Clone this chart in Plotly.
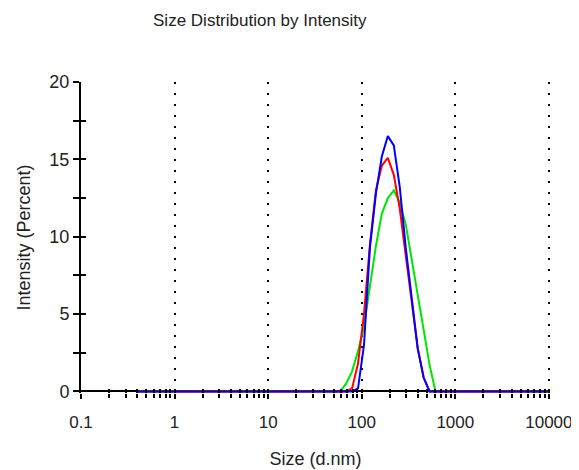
import plotly.graph_objects as go

# size bins (d.nm) and intensity (%) for the three measurements
sizes = [0.4, 58.77, 68.06, 78.82, 91.28, 105.7, 122.4, 141.8, 164.2, 190.1,
         220.2, 255.0, 295.3, 342.0, 396.1, 458.7, 531.2, 615.1, 712.4, 10000]
green = [0, 0, 0.5, 1.3, 2.6, 4.2, 6.8, 9.4, 11.5, 12.5,
         13.0, 12.2, 10.8, 8.6, 6.2, 4.0, 1.7, 0, 0, 0]
red = [0, 0, 0, 0.2, 1.8, 5.0, 9.5, 13.0, 14.6, 15.1,
       14.0, 11.8, 8.7, 5.6, 2.8, 0.9, 0, 0, 0, 0]
blue = [0, 0, 0, 0, 0.2, 3.0, 9.3, 12.8, 15.2, 16.5,
        15.9, 13.2, 9.3, 5.9, 2.8, 0.9, 0, 0, 0, 0]

x_ticks = [0.1, 1, 10, 100, 1000, 10000]
x_labels = ['0.1', '1', '10', '100', '1000', '10000']
y_ticks = [0, 5, 10, 15, 20]

fig = go.Figure()
for y, c in [(green, '#00e600'), (red, '#ff0000'), (blue, '#0000ff')]:
	fig.add_trace(go.Scatter(x=sizes, y=y, mode='lines',
	                         line=dict(color=c, width=2),
	                         showlegend=False))

xrange = [-1, 4.012]
yrange = [-0.1, 20]

# page body has an 8px margin, so the figure is 8px smaller than the window
fig.update_layout(
	width=571, height=462,
	paper_bgcolor='white', plot_bgcolor='white',
	margin=dict(l=73, r=29, t=74, b=77),
	font=dict(family='Liberation Sans', size=18, color='#222222'),
	title=dict(text='Size Distribution by Intensity', x=0.441, xref='container',
	           xanchor='center', y=1 - 12 / 462, yref='container', yanchor='middle',
	           font=dict(size=17, color='#222222')),
	xaxis=dict(type='log', range=xrange, tickvals=x_ticks, ticktext=x_labels,
	           ticks='outside', ticklen=5, tickwidth=2, tickcolor='black',
	           ticklabelstandoff=9, automargin=False,
	           showline=False, tickfont=dict(size=17, color='#222222'),
	           showgrid=True, gridcolor='black', gridwidth=1.5, griddash='2px,9px',
	           minor=dict(dtick='D1', ticks='outside', ticklen=4, tickwidth=2,
	                      tickcolor='black', showgrid=False),
	           title=dict(text='Size (d.nm)', standoff=20, font=dict(size=18))),
	xaxis2=dict(type='log', range=xrange, overlaying='x', matches='x', anchor='y',
	            tickvals=x_ticks, showticklabels=False, automargin=False,
	            ticks='inside', ticklen=4, tickwidth=2, tickcolor='black',
	            showgrid=False, showline=False,
	            minor=dict(dtick='D1', ticks='inside', ticklen=4, tickwidth=2,
	                       tickcolor='black', showgrid=False)),
	yaxis=dict(range=yrange, tickvals=y_ticks, ticks='outside', ticklen=6,
	           tickwidth=2, tickcolor='black', showline=True, linecolor='black',
	           linewidth=2, showgrid=False, zeroline=True, zerolinecolor='black',
	           zerolinewidth=2, tickfont=dict(size=18, color='#222222'),
	           automargin=False,
	           minor=dict(dtick=2.5, ticks='outside', ticklen=6, tickwidth=2,
	                      tickcolor='black'),
	           title=dict(text='Intensity (Percent)', standoff=14, font=dict(size=18))),
	yaxis2=dict(range=yrange, overlaying='y', anchor='x', side='left',
	            tickvals=y_ticks, showticklabels=False, ticks='inside', ticklen=5,
	            tickwidth=2, tickcolor='black', showgrid=False, showline=False,
	            zeroline=False, automargin=False,
	            minor=dict(dtick=2.5, ticks='inside', ticklen=5, tickwidth=2,
	                       tickcolor='black')),
)

# empty trace so the overlay axes render
fig.add_trace(go.Scatter(x=[1], y=[None], xaxis='x2', yaxis='y2', showlegend=False,
                         hoverinfo='skip'))

fig.write_html("out.html")
